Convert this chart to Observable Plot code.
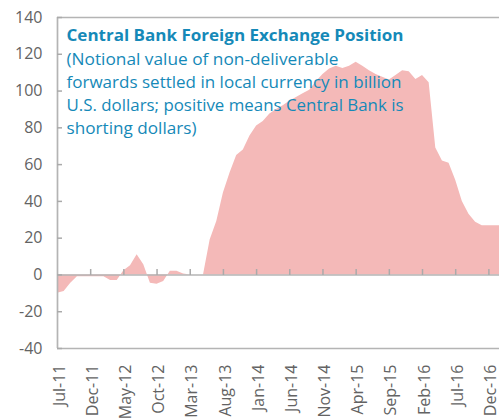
<!DOCTYPE html>
<html><head><meta charset="utf-8">
<script src="https://cdn.jsdelivr.net/npm/d3@7"></script>
<script src="https://cdn.jsdelivr.net/npm/@observablehq/plot@0.6"></script>
<style>body{margin:0;background:#fff;overflow:hidden;}</style>
</head><body><div id="chart"></div>
<script>
// Monthly values, starting Jul-2011 (index 0), billion USD
const values = [-10, -9, -4.5, -1, -1, -1, -1, -1, -3, -3,
  2.3, 5, 11, 5.5, -4.5, -5, -3.5, 2, 2, 0.5,
  0, 0, 0, 19, 29, 44.5, 55.5, 65, 68, 75.5,
  81, 83.5, 87.5, 90, 92, 94.5, 96.5, 98.5, 100.5, 105,
  109, 112, 113.5, 112.3, 113.5, 115.7, 113.5, 111, 109, 107.5,
  106, 108.5, 111, 110.5, 106.3, 108.4, 104.5, 69, 62, 60.8,
  51.5, 40, 33, 28.7, 26.8, 26.8, 26.8, 26.8];
const xTickIdx = [0, 5, 10, 15, 20, 25, 30, 35, 40, 45, 50, 55, 60, 65];
const xTickLabels = ["Jul-11","Dec-11","May-12","Oct-12","Mar-13","Aug-13","Jan-14","Jun-14","Nov-14","Apr-15","Sep-15","Feb-16","Jul-16","Dec-16"];
const yTicks = [-40, -20, 0, 20, 40, 60, 80, 100, 120, 140];
const titleText = "Central Bank Foreign Exchange Position";
const subtitleLines = [
  "(Notional value of non-deliverable",
  "forwards settled in local currency in billion",
  "U.S. dollars; positive means Central Bank is",
  "shorting dollars)"
];

const data = values.map((v, i) => ({i, v}));
const labelOf = new Map(xTickIdx.map((t, k) => [t, xTickLabels[k]]));
const grey = "#b4b4b4";
const tickGrey = "#aaaaaa";
const textGrey = "#636363";
const blue = "#1589b8";

const plot = Plot.plot({
  width: 499,
  height: 420,
  marginTop: 17,
  marginBottom: 72,
  marginLeft: 57,
  marginRight: 0,
  style: {fontFamily: "Open Sans", fontSize: "16px", color: textGrey, background: "#fff"},
  x: {type: "linear", domain: [0, 66.6], label: null},
  y: {domain: [-40, 140], label: null},
  marks: [
    Plot.areaY(data, {x: "i", y: "v", fill: "#f4b9b8", clip: true}),
    Plot.ruleY([0], {stroke: grey, strokeWidth: 1.6}),
    Plot.ruleY([140, -40], {stroke: grey, strokeWidth: 1.4}),
    Plot.ruleX([0], {stroke: grey, strokeWidth: 1.7}),
    Plot.tickX(xTickIdx.slice(1), {x: d => d, stroke: tickGrey, strokeWidth: 1.5, insetTop: 252, insetBottom: 73}),
    Plot.tickY(yTicks, {y: d => d, stroke: tickGrey, strokeWidth: 1.5, insetRight: 437}),
    Plot.axisY({ticks: yTicks, tickFormat: d => String(d), tickSize: 0, tickPadding: 15, fill: textGrey, fontSize: 16, label: null}),
    Plot.axisX({ticks: xTickIdx, tickFormat: d => labelOf.get(d), tickRotate: -90, tickSize: 0, tickPadding: 16, dx: 2, fill: textGrey, fontSize: 16, label: null}),
    Plot.text([titleText], {text: d => d, frameAnchor: "top-left", textAnchor: "start", lineAnchor: "top", dx: 9, dy: 12, fill: blue, fontSize: 16.5, fontWeight: "bold"}),
    ...subtitleLines.map((t, k) => Plot.text([t], {text: d => d, frameAnchor: "top-left", textAnchor: "start", lineAnchor: "top", dx: 9, dy: 36 + k * 23, fill: blue, fontSize: 16.5}))
  ]
});
document.getElementById("chart").appendChild(plot);

// fit text line widths to the reference
const widths = new Map([[titleText, 337], [subtitleLines[0], 272], [subtitleLines[1], 335], [subtitleLines[2], 337], [subtitleLines[3], 130]]);
d3.select(plot).selectAll("text").each(function() {
  const w = widths.get(this.textContent);
  if (w) { this.setAttribute("textLength", w); this.setAttribute("lengthAdjust", "spacingAndGlyphs"); }
});
</script>
</body></html>
